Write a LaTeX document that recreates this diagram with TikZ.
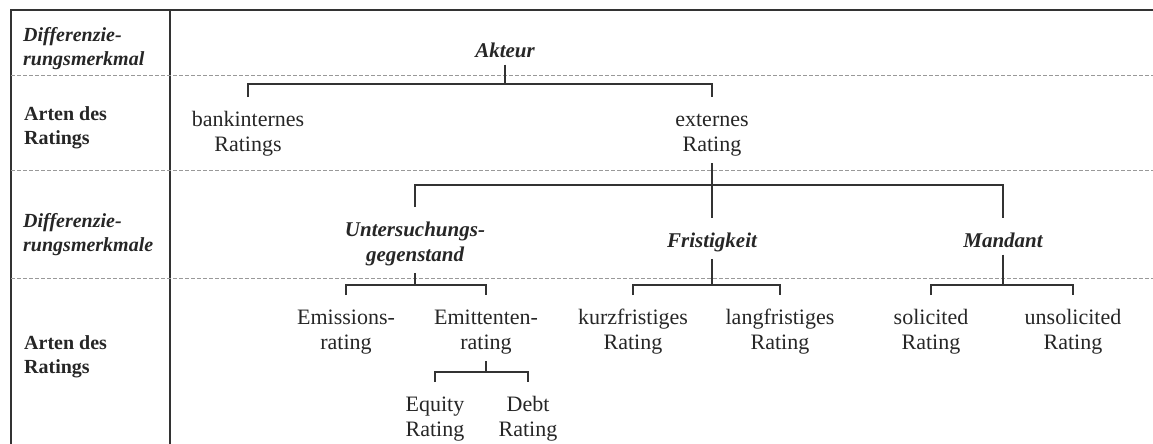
\documentclass[tikz,border=0pt]{standalone}
\usepackage{fontspec}
\setmainfont{Liberation Serif}
\newcommand{\itemstrut}{\rule{0pt}{22pt}}

\begin{document}
\begin{tikzpicture}[
    x = 1pt, y = -1pt,
    frame/.style = {line width = 1.6pt, draw = black!80},
    rowline/.style = {line width = 0.8pt, draw = black!40, dash pattern = on 4pt off 2pt},
    tree/.style = {line width = 1.4pt, draw = black!80},
    item/.style = {anchor = north, align = center, inner xsep = 2pt, inner ysep = 7pt,
                   text = black!85, font = \fontsize{22}{25}\selectfont,
                   execute at begin node = \itemstrut},
    crit/.style = {item, font = \fontsize{21}{25}\selectfont\bfseries\itshape},
    side/.style = {anchor = north west, align = left, inner sep = 0pt, text = black!85,
                   font = \fontsize{20}{24}\selectfont\bfseries, execute at begin node = \strut}
]
\useasboundingbox (0,0) rectangle (1153,444);

% Frame and rows
\draw[frame] (11,444) -- (11,10) -- (1153,10);
\draw[frame] (170,10) -- (170,444);
\draw[rowline] (11,75)  -- (1153,75);
\draw[rowline] (11,170) -- (1153,170);
\draw[rowline] (11,278) -- (1153,278);

% Left column
\node[side, font = \fontsize{20}{24}\selectfont\bfseries\itshape] (l1) at (23,27)  {Differenzie-\\rungsmerkmal};
\node[side] (l2) at (24,106) {Arten des\\Ratings};
\node[side, font = \fontsize{20}{24}\selectfont\bfseries\itshape] (l3) at (23,213) {Differenzie-\\rungsmerkmale};
\node[side] (l4) at (24,335) {Arten des\\Ratings};

% Bar heights
\coordinate (bar1) at (0,84);
\coordinate (bar2) at (0,185);
\coordinate (bar3) at (0,285);
\coordinate (bar4) at (0,372);

% Actor level
\node[crit] (akteur) at (505,28) {Akteur};
\node[item] (bank) at (248,97) {\itemstrut bankinternes\\Ratings};
\node[item] (ext)  at (712,97) {\itemstrut externes\\Rating};

% Criteria of external rating
\node[crit] (unters)  at (415,207) {\itemstrut Untersuchungs-\\gegenstand};
\node[crit] (frist)   at (712,218) {Fristigkeit};
\node[crit] (mandant) at (1003,218) {Mandant};

% Kinds of ratings
\node[item] (emis)    at (346,295)  {\itemstrut Emissions-\\rating};
\node[item] (emit)    at (486,295)  {\itemstrut Emittenten-\\rating};
\node[item] (kurz)    at (633,295)  {\itemstrut kurzfristiges\\Rating};
\node[item] (lang)    at (780,295)  {\itemstrut langfristiges\\Rating};
\node[item] (solic)   at (931,295)  {\itemstrut solicited\\Rating};
\node[item] (unsolic) at (1073,295) {\itemstrut unsolicited\\Rating};
\node[item] (equity)  at (435,382)  {\itemstrut Equity\\Rating};
\node[item] (debt)    at (528,382)  {\itemstrut Debt\\Rating};

% Tree connections
\draw[tree] (akteur.south) -- (akteur.south |- bar1);
\draw[tree] (bank.north) |- (ext.north |- bar1) -- (ext.north);

\draw[tree] (ext.south) -- (frist.north);
\draw[tree] (unters.north) |- (mandant.north |- bar2) -- (mandant.north);

\draw[tree] (unters.south) -- (unters.south |- bar3);
\draw[tree] (emis.north) |- (emit.north |- bar3) -- (emit.north);

\draw[tree] (frist.south) -- (frist.south |- bar3);
\draw[tree] (kurz.north) |- (lang.north |- bar3) -- (lang.north);

\draw[tree] (mandant.south) -- (mandant.south |- bar3);
\draw[tree] (solic.north) |- (unsolic.north |- bar3) -- (unsolic.north);

\draw[tree] (emit.south) -- (emit.south |- bar4);
\draw[tree] (equity.north) |- (debt.north |- bar4) -- (debt.north);

\end{tikzpicture}
\end{document}
